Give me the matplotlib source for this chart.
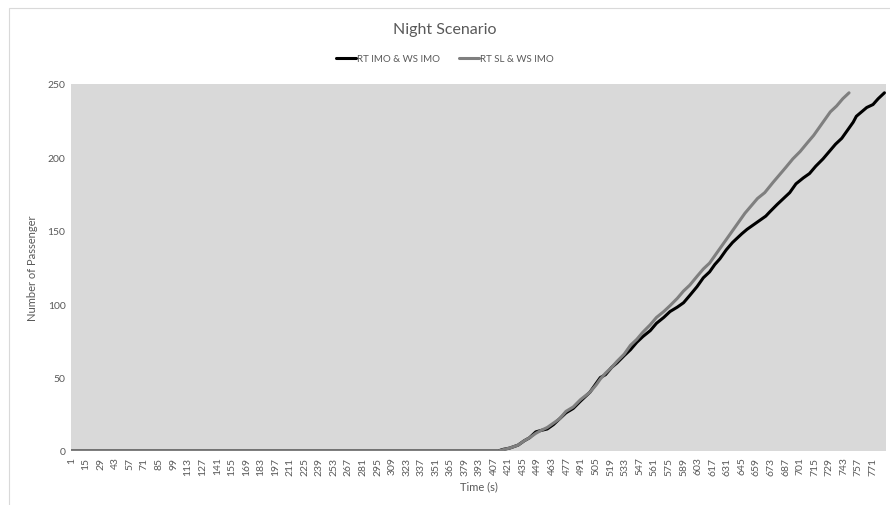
"""Night scenario: cumulative passengers over time for two route/wayfinding setups."""
import matplotlib.pyplot as plt
from matplotlib.patches import Rectangle

plt.rcParams["font.family"] = ["Lato", "DejaVu Sans"]

# values (time in s, passengers)
black_t = [1, 411, 415, 422, 430, 436, 441, 447, 452, 458, 464, 470, 476, 483,
           490, 499, 505, 509, 514, 520, 525, 532, 538, 544, 550, 557, 563, 570,
           576, 583, 589, 595, 602, 608, 614, 619, 624, 630, 636, 645, 650, 656,
           662, 668, 672, 679, 685, 691, 697, 704, 710, 716, 723, 729, 735, 741,
           747, 752, 755, 760, 765, 771, 776, 782]
black_v = [0, 0, 1, 2, 4, 7, 9, 13, 14, 15, 18, 22, 26, 29,
           34, 40, 46, 50, 52, 57, 60, 65, 69, 74, 78, 82, 87, 91,
           95, 98, 101, 106, 112, 118, 122, 127, 131, 137, 142, 148, 151, 154,
           157, 160, 163, 168, 172, 176, 182, 186, 189, 194, 199, 204, 209, 213,
           219, 224, 228, 231, 234, 236, 240, 244]

gray_t = [1, 411, 416, 422, 430, 436, 441, 447, 452, 458, 464, 470, 476, 483,
          490, 499, 505, 509, 514, 520, 525, 532, 538, 544, 550, 557, 563, 570,
          576, 583, 589, 595, 602, 608, 614, 619, 624, 630, 636, 643, 648, 654,
          660, 667, 675, 681, 687, 694, 701, 708, 714, 720, 725, 730, 736, 742,
          748]
gray_v = [0, 0, 1, 2, 4, 7, 9, 12, 14, 16, 19, 22, 27, 30,
          35, 40, 45, 49, 53, 57, 61, 66, 72, 76, 81, 86, 91, 95,
          99, 104, 109, 113, 119, 124, 128, 133, 138, 144, 150, 157, 162, 167,
          172, 176, 183, 188, 193, 199, 204, 210, 215, 221, 226, 231, 235, 240,
          244]

n_cat = 783
xtick_vals = list(range(1, 772, 14))
ytick_vals = [0, 50, 100, 150, 200, 250]

text_col = "#595959"

fig = plt.figure(figsize=(8.9, 5.06), dpi=100)
fig.patches.append(Rectangle((9 / 890, -0.1), 1.2, 1 - 9 / 506 + 0.1,
                             transform=fig.transFigure, fill=False,
                             edgecolor="#d9d9d9", linewidth=0.8))
ax = fig.add_axes([71 / 890, 1 - 452 / 506, 815 / 890, 367 / 506])
ax.set_facecolor("#d9d9d9")

ax.plot(black_t, black_v, color="black", linewidth=2.2, label="RT IMO & WS IMO",
        solid_capstyle="round", zorder=3)
ax.plot(gray_t, gray_v, color="#7f7f7f", linewidth=2.2, label="RT SL & WS IMO",
        solid_capstyle="round", zorder=4)

ax.set_xlim(0.5, n_cat + 0.5)
ax.set_ylim(0, 250)
ax.set_xticks(xtick_vals)
ax.set_xticklabels([str(v) for v in xtick_vals], rotation=90, fontsize=7.5,
                   color=text_col)
ax.set_yticks(ytick_vals)
ax.set_yticklabels([str(v) for v in ytick_vals], fontsize=7.5, color=text_col)
ax.tick_params(length=0, pad=4)
for s in ax.spines.values():
    s.set_visible(False)

ax.set_xlabel("Time (s)", fontsize=8, color=text_col, labelpad=4)
ax.set_ylabel("Number of Passenger", fontsize=8, color=text_col, labelpad=7)
fig.text(0.5, 1 - 30 / 506, "Night Scenario", ha="center", va="center",
         fontsize=11.5, color=text_col)
fig.legend(loc="center", bbox_to_anchor=(0.5, 1 - 60 / 506), ncol=2,
           frameon=False, fontsize=7, handlelength=2.0, handletextpad=0.1,
           columnspacing=2.0, labelcolor=text_col)

fig.savefig("out.png", dpi=100)
plt.close(fig)
